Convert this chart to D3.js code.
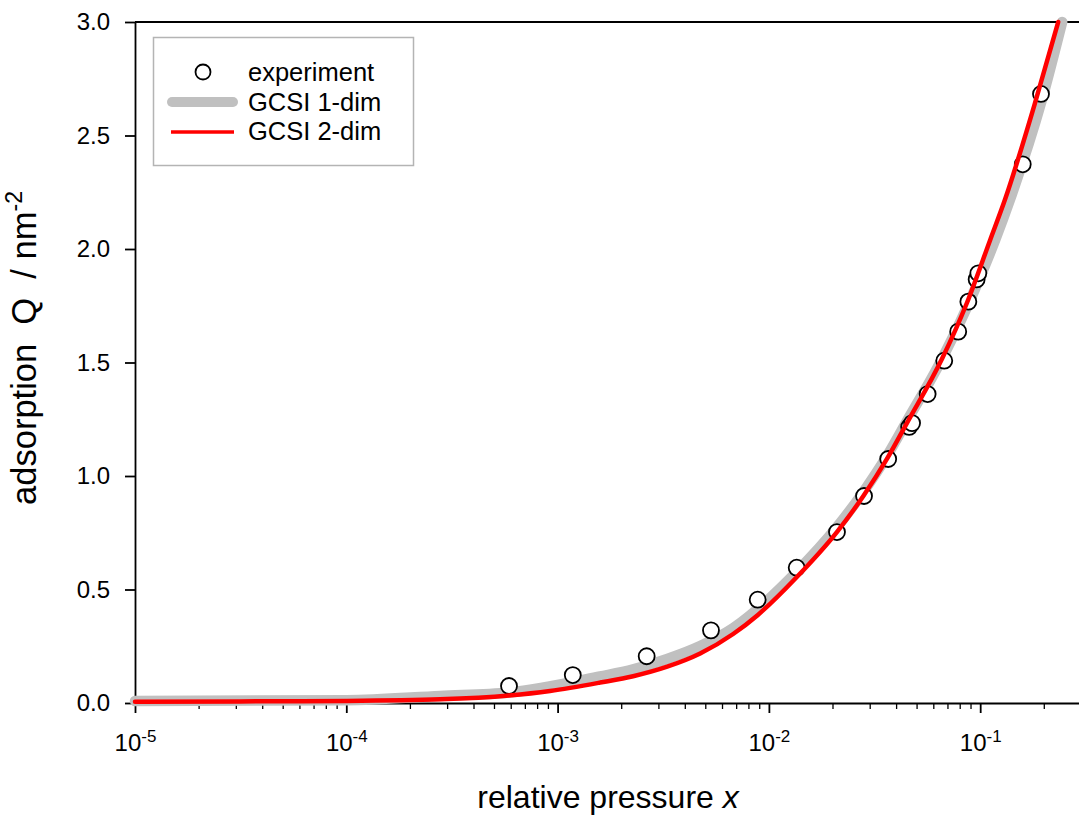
<!DOCTYPE html>
<html>
<head>
<meta charset="utf-8">
<script src="https://cdn.jsdelivr.net/npm/d3@7"></script>
<style>
  body { margin: 0; background: #fff; }
  text { font-family: Arial, "Liberation Sans", sans-serif; fill: #000; }
</style>
</head>
<body>
<div id="chart"></div>
<script>
// experiment points
var expX = [5.89e-4, 1.18e-3, 2.64e-3, 5.32e-3, 8.85e-3, 1.354e-2, 2.10e-2, 2.82e-2, 3.67e-2,
            4.61e-2, 4.76e-2, 5.64e-2, 6.76e-2, 7.87e-2, 8.79e-2, 9.62e-2, 9.80e-2, 0.159, 0.194];
var expY = [0.075, 0.123, 0.206, 0.320, 0.455, 0.596, 0.753, 0.912, 1.075,
            1.216, 1.233, 1.361, 1.508, 1.636, 1.768, 1.866, 1.893, 2.373, 2.683];

// GCSI 1-dim (grey, wide)
var gcsi1X = [1e-5, 1e-4, 2.78e-4, 5.89e-4, 1.589e-3, 2.277e-3, 3.30e-3, 4.727e-3, 6.773e-3,
              1.356e-2, 2.098e-2, 2.80e-2, 3.62e-2, 4.50e-2, 6.59e-2, 8.84e-2, 0.1178, 0.1387,
              0.1965, 0.2444];
var gcsi1Y = [0.009, 0.012, 0.031, 0.046, 0.117, 0.148, 0.194, 0.251, 0.330,
              0.579, 0.775, 0.930, 1.088, 1.242, 1.515, 1.762, 2.040, 2.220,
              2.661, 3.0];

// GCSI 2-dim (red)
var gcsi2X = [1e-5, 3.14e-5, 1e-4, 2.78e-4, 5.89e-4, 9.21e-4, 1.589e-3, 2.277e-3, 3.30e-3,
              4.727e-3, 6.773e-3, 8.87e-3, 1.356e-2, 2.098e-2, 2.80e-2, 3.62e-2, 4.50e-2,
              6.59e-2, 8.65e-2, 0.1115, 0.1313, 0.1841, 0.2340];
var gcsi2Y = [0.005, 0.007, 0.009, 0.016, 0.033, 0.053, 0.090, 0.118, 0.160,
              0.218, 0.304, 0.388, 0.555, 0.753, 0.912, 1.075, 1.233,
              1.515, 1.762, 2.040, 2.220, 2.661, 3.0];

var xMajorTicks = [1e-5, 1e-4, 1e-3, 1e-2, 1e-1];
var xExponents = ["-5", "-4", "-3", "-2", "-1"];
var yTicks = [0, 0.5, 1.0, 1.5, 2.0, 2.5, 3.0];
var legendLabels = ["experiment", "GCSI 1-dim", "GCSI 2-dim"];

var margin = { top: 22, left: 135 };
var width = 946, height = 681;

var svg = d3.select("#chart").append("svg")
  .attr("width", 1079)
  .attr("height", 816);

var g = svg.append("g")
  .attr("transform", "translate(" + margin.left + "," + margin.top + ")");

var x = d3.scaleLog().domain([1e-5, 0.3]).range([0, width]);
var y = d3.scaleLinear().domain([0, 3]).range([height, 0]);

// minor ticks 2..9 per decade
var minorTicks = [];
xMajorTicks.forEach(function(t) {
  for (var k = 2; k <= 9; k++) {
    if (t * k <= 0.3) minorTicks.push(t * k);
  }
});

g.append("g")
  .attr("transform", "translate(0," + height + ")")
  .call(d3.axisBottom(x).tickValues(minorTicks).tickSize(6).tickFormat(""))
  .call(function(a) { a.select(".domain").remove(); })
  .selectAll("line").attr("stroke-width", 1.3);

var xAxis = g.append("g")
  .attr("transform", "translate(0," + height + ")")
  .call(d3.axisBottom(x).tickValues(xMajorTicks).tickSize(10).tickSizeOuter(0).tickPadding(16).tickFormat(""));
xAxis.select(".domain").attr("stroke-width", 1.8);
xAxis.selectAll("line").attr("stroke-width", 1.8);
xAxis.selectAll(".tick text")
  .style("font-size", "24px")
  .each(function(d, i) {
    var t = d3.select(this);
    t.append("tspan").text("10");
    t.append("tspan").attr("dy", "-9").style("font-size", "17px").text(xExponents[i]);
  })
  .attr("dy", "0.9em");

var yAxis = g.append("g")
  .call(d3.axisLeft(y).tickValues(yTicks).tickSize(10).tickSizeOuter(0).tickPadding(15)
    .tickFormat(d3.format(".1f")));
yAxis.select(".domain").attr("stroke-width", 1.8);
yAxis.selectAll("line").attr("stroke-width", 1.8);
yAxis.selectAll("text").style("font-size", "24px");

// top frame line
g.append("line")
  .attr("x1", 0).attr("x2", width)
  .attr("y1", 0).attr("y2", 0)
  .attr("stroke", "#000").attr("stroke-width", 1.8);

var line = d3.line()
  .x(function(d) { return x(d[0]); })
  .y(function(d) { return y(d[1]); })
  .curve(d3.curveMonotoneX);

g.append("path")
  .datum(d3.zip(gcsi1X, gcsi1Y))
  .attr("d", line)
  .attr("fill", "none")
  .attr("stroke", "#c0c0c0")
  .attr("stroke-width", 10.5)
  .attr("stroke-linecap", "round");

g.selectAll("circle.exp")
  .data(d3.zip(expX, expY))
  .enter().append("circle")
  .attr("class", "exp")
  .attr("cx", function(d) { return x(d[0]); })
  .attr("cy", function(d) { return y(d[1]); })
  .attr("r", 8)
  .attr("fill", "#fff")
  .attr("stroke", "#000")
  .attr("stroke-width", 1.8);

g.append("path")
  .datum(d3.zip(gcsi2X, gcsi2Y))
  .attr("d", line)
  .attr("fill", "none")
  .attr("stroke", "#ff0000")
  .attr("stroke-width", 4.5)
  .attr("stroke-linecap", "round");

// axis titles
var xt = svg.append("text")
  .attr("x", 608).attr("y", 808)
  .attr("text-anchor", "middle")
  .style("font-size", "32px");
xt.append("tspan").text("relative pressure ");
xt.append("tspan").style("font-style", "italic").text("x");

var yt = svg.append("text")
  .attr("transform", "translate(36,348) rotate(-90)")
  .attr("text-anchor", "middle")
  .style("font-size", "34.5px")
  .style("white-space", "pre");
yt.append("tspan").text("adsorption  Q  / nm");
yt.append("tspan").attr("dy", "-14").style("font-size", "23px").text("-2");

// legend
var lg = svg.append("g");
lg.append("rect")
  .attr("x", 153.5).attr("y", 37.5)
  .attr("width", 260).attr("height", 128)
  .attr("fill", "#fff")
  .attr("stroke", "#b4b4b4")
  .attr("stroke-width", 1.5);

lg.append("circle")
  .attr("cx", 203).attr("cy", 72).attr("r", 7.5)
  .attr("fill", "#fff").attr("stroke", "#000").attr("stroke-width", 1.8);
lg.append("line")
  .attr("x1", 172).attr("x2", 233).attr("y1", 102).attr("y2", 102)
  .attr("stroke", "#c0c0c0").attr("stroke-width", 10).attr("stroke-linecap", "round");
lg.append("line")
  .attr("x1", 171).attr("x2", 234).attr("y1", 132).attr("y2", 132)
  .attr("stroke", "#ff0000").attr("stroke-width", 3.5);

lg.selectAll("text.lab")
  .data(legendLabels)
  .enter().append("text")
  .attr("class", "lab")
  .attr("x", 248)
  .attr("y", function(d, i) { return 81 + i * 29.5; })
  .style("font-size", "25.5px")
  .text(function(d) { return d; });
</script>
</body>
</html>
